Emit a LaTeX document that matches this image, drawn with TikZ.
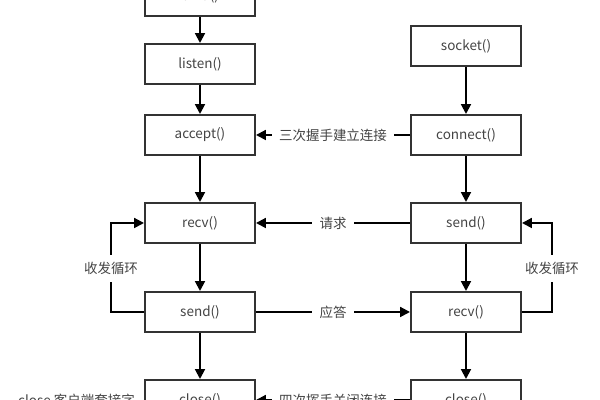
\documentclass[tikz,border=0pt]{standalone}
\usepackage{fontspec}
\setmainfont{Noto Sans CJK SC}
\usetikzlibrary{positioning, arrows.meta, calc}
\definecolor{boxline}{HTML}{333333}
\definecolor{txtgray}{HTML}{444444}

\begin{document}
\begin{tikzpicture}[
    box/.style={draw=boxline, line width=1.4pt, fill=white, text=txtgray,
                minimum width=2.75cm, minimum height=1cm, inner sep=0pt},
    arr/.style={-{Triangle[width=7pt,length=7pt]}, line width=1.4pt},
    lbl/.style={fill=white, text=txtgray, inner xsep=5pt, inner ysep=5pt},
    font=\fontsize{9.6}{11}\selectfont
]
\useasboundingbox (0,0) rectangle (15,10);
\begin{scope}
\clip (0,0) rectangle (15,10);

% Server side
\node[box] (bind)    at (5, 10.1)  {bind()};
\node[box] (listen)  at (5, 8.4)   {listen()};
\node[box] (accept)  at (5, 6.625) {accept()};
\node[box] (recvS)   at (5, 4.425) {recv()};
\node[box] (sendS)   at (5, 2.2)   {send()};
\node[box] (closeS)  at (5, 0)     {close()};
\node[text=txtgray, left=3pt of closeS] (closeNote) {close 客户端套接字};

% Client side
\node[text=txtgray] (clientTitle) at (11.65, 10.2) {客户端};
\node[box] (socket)  at (11.65, 8.84)  {socket()};
\node[box] (connect) at (11.65, 6.625) {connect()};
\node[box] (sendC)   at (11.65, 4.425) {send()};
\node[box] (recvC)   at (11.65, 2.2)   {recv()};
\node[box] (closeC)  at (11.65, 0)     {close()};

% Flow in each column
\foreach \a/\b in {bind/listen, listen/accept, accept/recvS, recvS/sendS, sendS/closeS,
                   socket/connect, connect/sendC, sendC/recvC, recvC/closeC}
    \draw[arr] (\a) -- (\b);

% Between client and server
\draw[arr] (connect) -- node[lbl] {三次握手建立连接} (accept);
\draw[arr] (sendC) -- node[lbl] {请求} (recvS);
\draw[arr] (sendS) -- node[lbl] {应答} (recvC);
\draw[arr] (closeC) -- node[lbl] {四次挥手关闭连接} (closeS);

% Loops
\coordinate (loopL) at (2.775, 3.28);
\coordinate (loopR) at (13.8, 3.28);
\draw[arr] (sendS.west) -| (loopL) |- (recvS.west);
\draw[arr] (recvC.east) -| (loopR) |- (sendC.east);
\node[lbl] at (loopL) {收发循环};
\node[lbl] at (loopR) {收发循环};
\end{scope}
\end{tikzpicture}
\end{document}
